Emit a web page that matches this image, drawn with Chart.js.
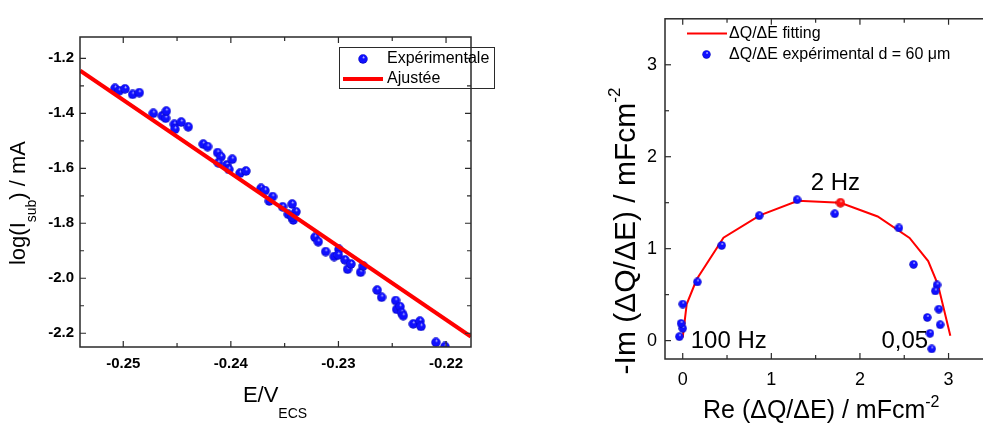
<!DOCTYPE html>
<html lang="fr">
<head>
<meta charset="UTF-8">
<title>Tafel + Nyquist</title>
<script src="https://cdn.jsdelivr.net/npm/chart.js"></script>
<style>
  body { margin: 0; background: #fff; overflow: hidden; width: 983px; height: 426px; position: relative; }
  canvas { position: absolute; top: 0; }
  #left { left: 0; }
  #right { left: 590px; }
</style>
</head>
<body>
<canvas id="left" width="500" height="426"></canvas>
<canvas id="right" width="400" height="426"></canvas>

<script>
// ---- left chart : log(Isub) vs E ----
const expE = [-0.25077, -0.25037, -0.24984, -0.24913, -0.24851, -0.24721, -0.24638, -0.24606, -0.246, -0.24526,
  -0.2452, -0.24461, -0.24396, -0.24257, -0.24216, -0.24123, -0.24092, -0.24117, -0.24039, -0.24018,
  -0.23987, -0.23915, -0.2386, -0.2372, -0.23683, -0.23643, -0.23612, -0.23519, -0.23467, -0.2343,
  -0.23395, -0.2342, -0.2343, -0.23218, -0.23188, -0.23119, -0.2304, -0.22995, -0.23002, -0.2294,
  -0.22915, -0.22884, -0.22794, -0.2277, -0.2264, -0.22599, -0.22468, -0.22459, -0.22428, -0.22413,
  -0.22398, -0.22305, -0.22243, -0.22233, -0.22094, -0.2201];
const expLog = [-1.309, -1.318, -1.311, -1.331, -1.325, -1.4, -1.409, -1.418, -1.392, -1.44,
  -1.458, -1.432, -1.449, -1.512, -1.521, -1.543, -1.558, -1.58, -1.588, -1.604,
  -1.567, -1.618, -1.61, -1.673, -1.681, -1.719, -1.703, -1.74, -1.767, -1.73,
  -1.758, -1.788, -1.778, -1.851, -1.867, -1.903, -1.921, -1.895, -1.915, -1.933,
  -1.967, -1.948, -1.978, -1.955, -2.043, -2.069, -2.081, -2.113, -2.103, -2.125,
  -2.136, -2.166, -2.156, -2.175, -2.233, -2.248];
const fitE = [-0.254, -0.2177];
const fitLog = [-1.245, -2.212];
const eTicks = [-0.25, -0.24, -0.23, -0.22];
const eMinor = [-0.245, -0.235, -0.225];
const logTicks = [-2.2, -2.0, -1.8, -1.6, -1.4, -1.2];
const logMinor = [-2.1, -1.9, -1.7, -1.5, -1.3];

// ---- right chart : Nyquist dQ/dE ----
const fitRe = [0.0, 0.045, 0.158, 0.46, 0.87, 1.30, 1.78, 2.20, 2.56, 2.77, 2.88, 3.02];
const fitIm = [0.036, 0.397, 0.667, 1.12, 1.362, 1.52, 1.50, 1.35, 1.117, 0.865, 0.61, 0.054];
const expRe = [-0.038, 0.0, -0.019, 0.0, 0.165, 0.44, 0.863, 1.29, 1.715, 2.44, 2.605, 2.87, 2.85, 2.89, 2.76, 2.905, 2.79, 2.81];
const expIm = [0.043, 0.133, 0.187, 0.397, 0.638, 1.035, 1.359, 1.532, 1.38, 1.225, 0.829, 0.605, 0.54, 0.342, 0.252, 0.173, 0.079, -0.09];
const twoHzRe = [1.78];
const twoHzIm = [1.50];
const nyTicks = [0, 1, 2, 3];
const nyMinor = [0.5, 1.5, 2.5];

const F = '"Liberation Sans", Arial, sans-serif';
Chart.defaults.color = '#000';
Chart.defaults.font.family = F;

// shaded ball used as point style
function ball(d, light, mid, dark) {
  const c = document.createElement('canvas');
  c.width = c.height = d;
  const g = c.getContext('2d');
  const r = d / 2;
  const grad = g.createRadialGradient(r + r * 0.15, r - r * 0.4, 0, r, r, r);
  grad.addColorStop(0, light);
  grad.addColorStop(0.3, mid);
  grad.addColorStop(0.75, mid);
  grad.addColorStop(1, dark);
  g.fillStyle = grad;
  g.beginPath();
  g.arc(r, r, r - 0.3, 0, Math.PI * 2);
  g.fill();
  return c;
}
const blueBall = ball(10, '#e8e8ff', '#1010ff', '#0000a8');
const blueBallS = ball(9, '#e8e8ff', '#1010ff', '#0000a8');
const redBall = ball(10, '#ffe0e0', '#ff1010', '#b00000');

function pts(xs, ys) { return xs.map((x, i) => ({ x: x, y: ys[i] })); }

// sub/superscript text helper
function rich(ctx, parts, x, y, rotate, align) {
  ctx.save();
  ctx.translate(x, y);
  if (rotate) ctx.rotate(-Math.PI / 2);
  ctx.fillStyle = '#000';
  ctx.textBaseline = 'alphabetic';
  let w = 0;
  parts.forEach(p => { ctx.font = p.font; w += ctx.measureText(p.t).width; });
  let cx = align === 'center' ? -w / 2 : (align === 'right' ? -w : 0);
  parts.forEach(p => {
    ctx.font = p.font;
    ctx.fillText(p.t, cx, p.dy || 0);
    cx += ctx.measureText(p.t).width;
  });
  ctx.restore();
}

// frame with inward ticks
const framePlugin = {
  id: 'frame',
  afterDraw(chart, args, o) {
    const { ctx, chartArea: a, scales: { x, y } } = chart;
    ctx.save();
    ctx.strokeStyle = '#2a2a2a';
    ctx.lineWidth = 1.5;
    ctx.strokeRect(a.left, a.top, a.right - a.left, a.bottom - a.top);
    ctx.lineWidth = 1.2;
    const tick = (vals, len) => {
      vals.forEach(v => {
        const px = x.getPixelForValue(v);
        ctx.beginPath();
        ctx.moveTo(px, a.bottom); ctx.lineTo(px, a.bottom - len);
        ctx.moveTo(px, a.top); ctx.lineTo(px, a.top + len);
        ctx.stroke();
      });
    };
    const tickY = (vals, len) => {
      vals.forEach(v => {
        const py = y.getPixelForValue(v);
        ctx.beginPath();
        ctx.moveTo(a.left, py); ctx.lineTo(a.left + len, py);
        if (!o.noRight) { ctx.moveTo(a.right, py); ctx.lineTo(a.right - len, py); }
        ctx.stroke();
      });
    };
    tick(o.xMajor, 6); tick(o.xMinor, 4);
    tickY(o.yMajor, 6); tickY(o.yMinor, 4);
    ctx.restore();
  }
};

const leftText = {
  id: 'leftText',
  afterDraw(chart) {
    const ctx = chart.ctx;
    rich(ctx, [{ t: 'log(I', font: '22px ' + F }, { t: 'sub', font: '14px ' + F, dy: 11 }, { t: ') / mA', font: '22px ' + F }], 25, 203, true, 'center');
    rich(ctx, [{ t: 'E/V', font: '22px ' + F }, { t: 'ECS', font: '14px ' + F, dy: 16 }], 275, 402, false, 'center');
    // legend
    ctx.save();
    ctx.strokeStyle = '#2a2a2a';
    ctx.lineWidth = 1;
    ctx.strokeRect(339.5, 47.5, 155, 41);
    ctx.drawImage(blueBall, 358, 54);
    ctx.strokeStyle = '#ff0000';
    ctx.lineWidth = 4;
    ctx.beginPath(); ctx.moveTo(343, 79); ctx.lineTo(383, 79); ctx.stroke();
    ctx.fillStyle = '#000';
    ctx.font = '16px ' + F;
    ctx.textBaseline = 'middle';
    ctx.fillText('Expérimentale', 387, 59);
    ctx.fillText('Ajustée', 387, 79);
    ctx.restore();
  }
};

new Chart(document.getElementById('left'), {
  type: 'scatter',
  data: {
    datasets: [
      { label: 'Ajustée', data: pts(fitE, fitLog), showLine: true, borderColor: '#ff0000', borderWidth: 4, pointRadius: 0 },
      { label: 'Expérimentale', data: pts(expE, expLog), pointStyle: blueBall, pointRadius: 5 }
    ]
  },
  options: {
    responsive: false,
    animation: false,
    devicePixelRatio: 1,
    layout: { padding: { top: 37, right: 29, left: 0, bottom: 0 } },
    plugins: {
      legend: { display: false },
      tooltip: { enabled: false },
      frame: { xMajor: eTicks, xMinor: eMinor, yMajor: logTicks, yMinor: logMinor }
    },
    scales: {
      x: {
        type: 'linear', min: -0.25402, max: -0.21768,
        grid: { display: false, drawTicks: false }, border: { display: false },
        afterBuildTicks: s => { s.ticks = eTicks.map(v => ({ value: v })); },
        afterFit: s => { s.height = 79; },
        ticks: { padding: 8, font: { size: 15, weight: 'bold' }, callback: v => v.toFixed(2) }
      },
      y: {
        type: 'linear', min: -2.25, max: -1.1225,
        grid: { display: false, drawTicks: false }, border: { display: false },
        afterBuildTicks: s => { s.ticks = logTicks.map(v => ({ value: v })); },
        afterFit: s => { s.width = 80; },
        ticks: { padding: 6, font: { size: 15, weight: 'bold' }, callback: v => v.toFixed(1) }
      }
    }
  },
  plugins: [framePlugin, leftText]
});

const rightText = {
  id: 'rightText',
  afterDraw(chart) {
    const ctx = chart.ctx;
    const { x, y } = chart.scales;
    rich(ctx, [{ t: '-Im (ΔQ/ΔE) / mFcm', font: '30px ' + F }, { t: '-2', font: '17px ' + F, dy: -15 }], 45, 231, true, 'center');
    rich(ctx, [{ t: 'Re (ΔQ/ΔE) / mFcm', font: '25px ' + F }, { t: '-2', font: '16px ' + F, dy: -11 }], 113, 418, false, 'left');
    ctx.save();
    ctx.fillStyle = '#000';
    ctx.font = '24px ' + F;
    ctx.textBaseline = 'alphabetic';
    ctx.textAlign = 'center';
    ctx.fillText('2 Hz', x.getPixelForValue(twoHzRe[0]) - 5, y.getPixelForValue(twoHzIm[0]) - 13);
    ctx.textAlign = 'left';
    ctx.fillText('100 Hz', x.getPixelForValue(fitRe[0]) + 8, y.getPixelForValue(0) + 7);
    ctx.textAlign = 'right';
    ctx.fillText('0,05', x.getPixelForValue(2.77), y.getPixelForValue(0) + 7);
    // legend
    ctx.strokeStyle = '#ff0000';
    ctx.lineWidth = 2;
    ctx.beginPath(); ctx.moveTo(97, 33.5); ctx.lineTo(137, 33.5); ctx.stroke();
    ctx.drawImage(blueBallS, 112, 50);
    ctx.font = '16px ' + F;
    ctx.textBaseline = 'middle';
    ctx.textAlign = 'left';
    ctx.fillText('ΔQ/ΔE fitting', 139, 34);
    ctx.fillText('ΔQ/ΔE expérimental d = 60 μm', 139, 55);
    ctx.restore();
  }
};

new Chart(document.getElementById('right'), {
  type: 'scatter',
  data: {
    datasets: [
      { label: '2 Hz', data: pts(twoHzRe, twoHzIm), pointStyle: redBall, pointRadius: 5 },
      { label: 'ΔQ/ΔE expérimental d = 60 μm', data: pts(expRe, expIm), pointStyle: blueBallS, pointRadius: 5 },
      { label: 'ΔQ/ΔE fitting', data: pts(fitRe, fitIm), showLine: true, borderColor: '#ff0000', borderWidth: 2, pointRadius: 0 }
    ]
  },
  options: {
    responsive: false,
    animation: false,
    devicePixelRatio: 1,
    layout: { padding: { top: 15, right: 5, left: 0, bottom: 0 } },
    plugins: {
      legend: { display: false },
      tooltip: { enabled: false },
      frame: { xMajor: nyTicks, xMinor: nyMinor, yMajor: nyTicks, yMinor: nyMinor, noRight: true }
    },
    scales: {
      x: {
        type: 'linear', min: -0.2, max: 3.4,
        grid: { display: false, drawTicks: false }, border: { display: false },
        afterBuildTicks: s => { s.ticks = nyTicks.map(v => ({ value: v })); },
        afterFit: s => { s.height = 67; },
        ticks: { padding: 10, font: { size: 18 } }
      },
      y: {
        type: 'linear', min: -0.2, max: 3.5,
        grid: { display: false, drawTicks: false }, border: { display: false },
        afterBuildTicks: s => { s.ticks = nyTicks.map(v => ({ value: v })); },
        afterFit: s => { s.width = 75; },
        ticks: { padding: 8, font: { size: 18 } }
      }
    }
  },
  plugins: [framePlugin, rightText]
});
</script>
</body>
</html>
